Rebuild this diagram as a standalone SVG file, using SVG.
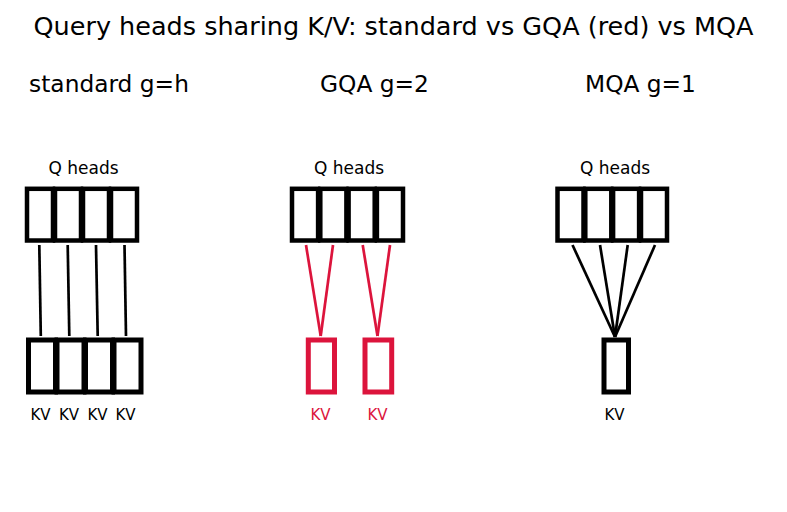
<svg xmlns="http://www.w3.org/2000/svg" width="787" height="512" viewBox="0 0 787 512">
<style>
text{font-family:"DejaVu Sans","Liberation Sans",sans-serif;fill:#000}
.t{font-size:25.5px;text-anchor:middle}
.s{font-size:23.3px;text-anchor:middle}
.q{font-size:17px;text-anchor:middle}
.k{font-size:15px;text-anchor:middle}
.red{fill:#dc143c}
.qc{fill:#fff;stroke:#000;stroke-width:4.5}
.kv{fill:#fff;stroke:#000;stroke-width:5}
.kvr{fill:#fff;stroke:#dc143c;stroke-width:5}
.ln{stroke:#000;stroke-width:2.7;fill:none}
.lr{stroke:#dc143c;stroke-width:2.7;fill:none}
</style>
<rect width="787" height="512" fill="#fff"/>
<text class="t" x="393.5" y="35">Query heads sharing K/V: standard vs GQA (red) vs MQA</text>
<text class="s" x="109" y="92">standard g=h</text>
<text class="s" x="374.5" y="92">GQA g=2</text>
<text class="s" x="640.5" y="92">MQA g=1</text>

<g id="connectors">
<line class="ln" x1="39.3" y1="245" x2="40.8" y2="336"/>
<line class="ln" x1="67.7" y1="245" x2="69.3" y2="336"/>
<line class="ln" x1="96" y1="245" x2="97.7" y2="336"/>
<line class="ln" x1="124.5" y1="245" x2="126" y2="336"/>
<line class="lr" x1="306" y1="245" x2="320.7" y2="336"/>
<line class="lr" x1="333" y1="245" x2="320.7" y2="336"/>
<line class="lr" x1="362.7" y1="245" x2="377.5" y2="336"/>
<line class="lr" x1="390" y1="245" x2="377.5" y2="336"/>
<line class="ln" x1="572.5" y1="245" x2="615" y2="337"/>
<line class="ln" x1="600" y1="245" x2="615" y2="337"/>
<line class="ln" x1="627.7" y1="245" x2="615" y2="337"/>
<line class="ln" x1="655" y1="245" x2="615" y2="337"/>
</g>

<g id="std-q">
<text class="q" x="83.5" y="174">Q heads</text>
<rect class="qc" x="27" y="188.8" width="26" height="51.7"/>
<rect class="qc" x="55" y="188.8" width="26" height="51.7"/>
<rect class="qc" x="83" y="188.8" width="26" height="51.7"/>
<rect class="qc" x="111" y="188.8" width="26" height="51.7"/>
</g>
<g id="std-kv">
<rect class="kv" x="28.5" y="340" width="27" height="52"/>
<rect class="kv" x="57" y="340" width="27" height="52"/>
<rect class="kv" x="85.5" y="340" width="27" height="52"/>
<rect class="kv" x="114" y="340" width="27" height="52"/>
<text class="k" x="40.5" y="420">KV</text>
<text class="k" x="69" y="420">KV</text>
<text class="k" x="97.5" y="420">KV</text>
<text class="k" x="125.5" y="420">KV</text>
</g>

<g id="gqa-q">
<text class="q" x="349" y="174">Q heads</text>
<rect class="qc" x="292" y="188.8" width="26.1" height="51.7"/>
<rect class="qc" x="320.3" y="188.8" width="26.1" height="51.7"/>
<rect class="qc" x="348.6" y="188.8" width="26.1" height="51.7"/>
<rect class="qc" x="376.9" y="188.8" width="26.1" height="51.7"/>
</g>
<g id="gqa-kv">
<rect class="kvr" x="308.3" y="340" width="26.2" height="52"/>
<rect class="kvr" x="365" y="340" width="26.7" height="52"/>
<text class="k red" x="320.5" y="420">KV</text>
<text class="k red" x="377.5" y="420">KV</text>
</g>

<g id="mqa-q">
<text class="q" x="615" y="174">Q heads</text>
<rect class="qc" x="557.5" y="188.8" width="26" height="51.7"/>
<rect class="qc" x="585.3" y="188.8" width="26" height="51.7"/>
<rect class="qc" x="613.1" y="188.8" width="26" height="51.7"/>
<rect class="qc" x="641" y="188.8" width="26" height="51.7"/>
</g>
<g id="mqa-kv">
<rect class="kv" x="604" y="340" width="24.5" height="52"/>
<text class="k" x="614.5" y="420">KV</text>
</g>
</svg>
